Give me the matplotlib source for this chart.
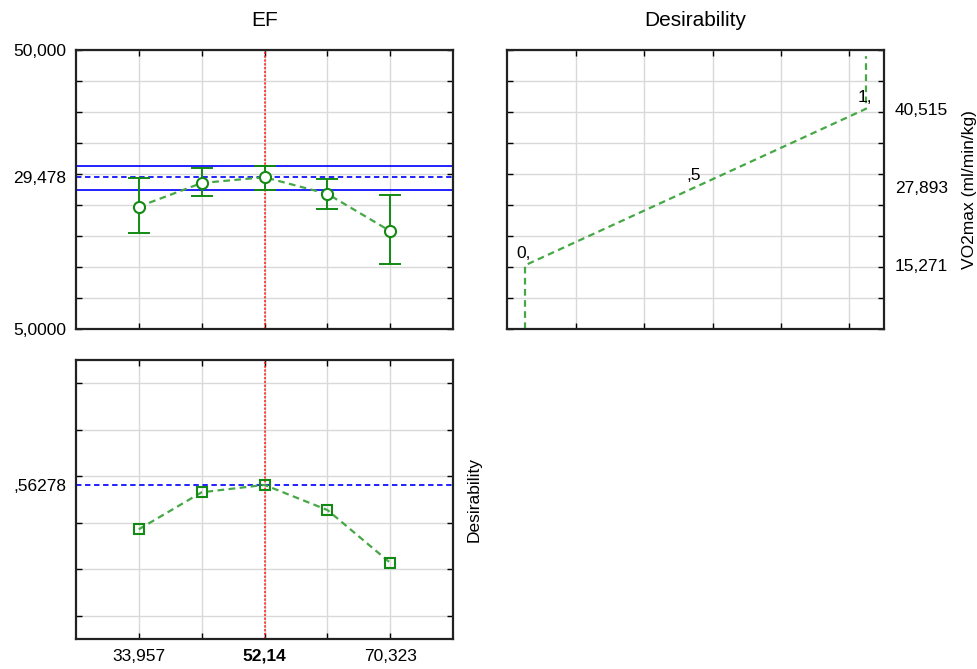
import numpy as np
import matplotlib.pyplot as plt

plt.rcParams['font.family'] = ['Liberation Sans', 'DejaVu Sans']
plt.rcParams['font.size'] = 12.5

# EF levels (x) and response profile
ef_levels = [33.957, 43.0485, 52.14, 61.2315, 70.323]
ef_labels = ['33,957', '', '52,14', '', '70,323']
vo2_pred = [24.73, 28.55, 29.478, 26.80, 20.80]
vo2_hi = [29.35, 31.02, 31.35, 29.24, 26.61]
vo2_lo = [20.44, 26.40, 27.45, 24.35, 15.48]
desir = [0.372, 0.531, 0.56278, 0.455, 0.228]

current_ef = 52.14
current_vo2 = 29.478
current_desir = 0.56278

# desirability function for VO2max
dfun_d = [0, 0, 0.5, 1, 1]
dfun_v = [5, 15.271, 27.893, 40.515, 49.0]
dfun_pts = [(0, 15.271, '0,'), (0.5, 27.893, ',5'), (1, 40.515, '1,')]

W, H = 977, 669
fig = plt.figure(figsize=(W / 100, H / 100), dpi=100)

green = '#138a13'
green_l = '#45a845'
grid_c = '#d9d9d9'

def frame(ax):
    for s in ax.spines.values():
        s.set_linewidth(1.6)
        s.set_color('#222222')
    ax.grid(True, which='major', color=grid_c, lw=1)
    ax.set_axisbelow(True)
    ax.tick_params(which='both', labelleft=False, labelbottom=False,
                   labelright=False, labeltop=False)
    ax.tick_params(which='major', direction='in', length=4, width=1,
                   top=True, bottom=True, left=True, right=True)
    ax.tick_params(which='minor', length=0)
    ax.xaxis.remove_overlapping_locs = False
    ax.yaxis.remove_overlapping_locs = False

ax1 = fig.add_axes([76 / W, 1 - 329 / H, 377 / W, 279 / H])
ax2 = fig.add_axes([76 / W, 1 - 639 / H, 377 / W, 279 / H])
ax3 = fig.add_axes([507 / W, 1 - 329 / H, 377 / W, 279 / H])

xlim = (ef_levels[0] - (ef_levels[1] - ef_levels[0]), ef_levels[-1] + (ef_levels[1] - ef_levels[0]))

# --- top left: VO2max vs EF
frame(ax1)
ax1.set_xlim(*xlim)
ax1.set_ylim(5, 50)
ax1.set_xticks(ef_levels)
ax1.set_yticks(np.arange(5, 51, 5))
ax1.set_yticks([5, current_vo2, 50], ['5,0000', '29,478', '50,000'], minor=True)
ax1.tick_params(which='minor', labelleft=True, pad=7)
ax1.axvline(current_ef, color='#ff1a1a', lw=1.1, ls=(0, (1.5, 1)))
ax1.axhline(vo2_hi[2], color='#1010ff', lw=1.3)
ax1.axhline(vo2_lo[2], color='#1010ff', lw=1.3)
ax1.axhline(current_vo2, color='#1010ff', lw=1.3, ls=(0, (3, 2)))
y = np.array(vo2_pred)
ax1.errorbar(ef_levels, y, yerr=[y - np.array(vo2_lo), np.array(vo2_hi) - y],
             fmt='none', ecolor=green, elinewidth=1.4, capsize=8, capthick=1.4)
ax1.plot(ef_levels, y, color=green_l, lw=1.6, ls=(0, (3, 2)))
ax1.plot(ef_levels, y, ls='none', marker='o', ms=8, mfc='white', mec=green, mew=1.5)
ax1.set_title('EF', pad=17)

# --- bottom left: desirability vs EF
frame(ax2)
ax2.set_xlim(*xlim)
ax2.set_ylim(-0.1, 1.1)
ax2.set_xticks(ef_levels)
ax2.set_yticks(np.arange(0, 1.01, 0.2))
ax2.set_yticks([current_desir], [',56278'], minor=True)
ax2.set_xticks(ef_levels, ef_labels, minor=True)
ax2.tick_params(which='minor', labelleft=True, labelbottom=True, pad=7)
for lab in ax2.get_xticklabels(minor=True):
    if lab.get_text() == '52,14':
        lab.set_fontweight('bold')
ax2.axvline(current_ef, color='#ff1a1a', lw=1.1, ls=(0, (1.5, 1)))
ax2.axhline(current_desir, color='#1010ff', lw=1.3, ls=(0, (3, 2)))
ax2.plot(ef_levels, desir, color=green_l, lw=1.6, ls=(0, (3, 2)))
ax2.plot(ef_levels, desir, ls='none', marker='s', ms=7, mfc='none', mec=green, mew=1.5)
ax2.yaxis.set_label_position('right')
ax2.set_ylabel('Desirability', labelpad=10)

# --- top right: desirability function
frame(ax3)
ax3.set_xlim(-0.0528, 1.0528)
ax3.set_ylim(5, 50)
ax3.set_xticks([0.15, 0.35, 0.55, 0.75, 0.95])
ax3.set_yticks(np.arange(5, 51, 5))
ax3.set_yticks([15.271, 27.893, 40.515], ['15,271', '27,893', '40,515'], minor=True)
ax3.tick_params(which='minor', labelright=True, pad=8)
ax3.plot(dfun_d, dfun_v, color=green_l, lw=1.6, ls=(0, (3, 2)))
for d, v, t in dfun_pts:
    ax3.annotate(t, (d, v), xytext=(-1, 3), textcoords='offset points',
                 ha='center', va='bottom')
ax3.yaxis.set_label_position('right')
ax3.set_ylabel('VO2max (ml/min/kg)', labelpad=10)
ax3.set_title('Desirability', pad=17)

fig.savefig('out.png', dpi=100)
